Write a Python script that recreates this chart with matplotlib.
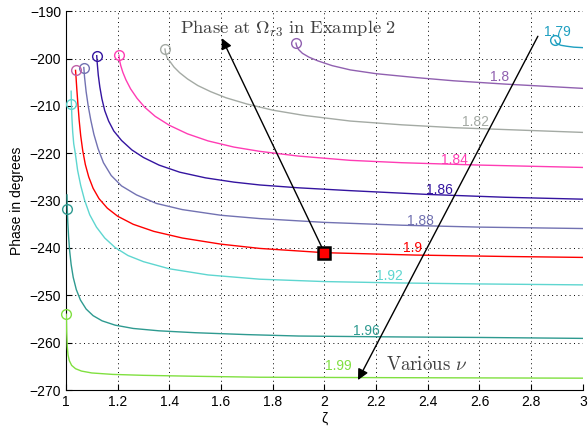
import matplotlib
matplotlib.use('Agg')
import matplotlib.pyplot as plt
import numpy as np

plt.rcParams['font.family'] = ['Liberation Sans', 'DejaVu Sans']
plt.rcParams['mathtext.fontset'] = 'cm'

# curve data (zeta, phase in degrees) for each nu
nu_labels = ['1.79', '1.8', '1.82', '1.84', '1.86', '1.88', '1.9', '1.92', '1.96', '1.99']
colors = ['#1e9fc0', '#9060b0', '#a4aaa4', '#ff3cb4', '#3414a0',
          '#7272b2', '#ff0000', '#5ed6d0', '#2e9a90', '#80e040']
circle_colors = ['#1e9fc0', '#9060b0', '#a4aaa4', '#ff3cb4', '#3414a0',
                 '#7272b2', '#c060a8', '#5ed6d0', '#2e9a90', '#80e040']

zeta_179 = [2.892, 2.898, 2.915, 2.937, 2.965, 3.0]
phase_179 = [-196.1, -196.8, -197.2, -197.4, -197.6, -197.7]

zeta_180 = [1.890, 1.893, 1.900, 1.915, 1.940, 1.975, 2.030, 2.100, 2.200, 2.350, 2.500, 2.700, 3.0]
phase_180 = [-196.75, -197.4, -198.1, -198.9, -199.7, -200.5, -201.5, -202.4, -203.2, -204.0, -204.7, -205.4, -206.3]

zeta_182 = [1.383, 1.386, 1.392, 1.402, 1.418, 1.440, 1.470, 1.510, 1.560, 1.620, 1.700, 1.800, 1.920, 2.100, 2.300, 2.500, 2.750, 3.0]
phase_182 = [-198.0, -199.0, -199.9, -200.6, -201.8, -203.0, -204.3, -205.7, -207.0, -208.3, -209.6, -210.9, -212.0, -213.2, -214.0, -214.6, -215.1, -215.6]

zeta_184 = [1.205, 1.207, 1.212, 1.220, 1.232, 1.250, 1.275, 1.305, 1.345, 1.400, 1.470, 1.550, 1.650, 1.750, 1.900, 2.100, 2.300, 2.600, 3.0]
phase_184 = [-199.3, -200.3, -201.5, -202.9, -204.5, -206.4, -208.4, -210.3, -212.2, -214.1, -215.9, -217.4, -218.7, -219.6, -220.6, -221.5, -222.0, -222.5, -223.0]

zeta_186 = [1.119, 1.121, 1.125, 1.131, 1.139, 1.150, 1.165, 1.185, 1.215, 1.255, 1.300, 1.360, 1.440, 1.540, 1.650, 1.750, 1.900, 2.100, 2.400, 2.700, 3.0]
phase_186 = [-199.4, -201.0, -203.5, -206.0, -208.5, -211.0, -213.2, -215.3, -217.3, -219.3, -220.9, -222.5, -224.0, -225.2, -226.1, -226.7, -227.3, -227.9, -228.7, -229.3, -229.7]

zeta_188 = [1.069, 1.072, 1.078, 1.086, 1.096, 1.108, 1.124, 1.145, 1.175, 1.215, 1.273, 1.350, 1.450, 1.600, 1.750, 2.000, 2.300, 2.600, 3.0]
phase_188 = [-201.9, -204.0, -207.0, -210.0, -213.0, -216.0, -219.0, -222.0, -224.7, -226.9, -228.8, -230.6, -231.9, -233.1, -233.8, -234.6, -235.2, -235.6, -235.9]

zeta_190 = [1.037, 1.039, 1.042, 1.046, 1.051, 1.057, 1.065, 1.075, 1.088, 1.105, 1.128, 1.160, 1.200, 1.260, 1.340, 1.450, 1.600, 1.750, 2.0, 2.350, 2.700, 3.0]
phase_190 = [-202.5, -204.0, -206.5, -209.5, -213.0, -216.3, -219.5, -222.4, -225.0, -227.4, -229.6, -231.6, -233.3, -235.0, -236.5, -237.9, -239.2, -240.1, -241.0, -241.5, -241.8, -242.0]

zeta_192 = [1.020, 1.021, 1.023, 1.026, 1.030, 1.036, 1.045, 1.057, 1.072, 1.092, 1.118, 1.150, 1.190, 1.240, 1.300, 1.400, 1.550, 1.750, 2.0, 2.300, 2.600, 3.0]
phase_192 = [-206.9, -209.6, -212.5, -215.5, -218.0, -220.0, -223.6, -226.8, -229.9, -233.0, -235.6, -237.9, -239.9, -241.6, -242.9, -244.4, -245.7, -246.6, -247.1, -247.4, -247.6, -247.8]

zeta_196 = [1.004, 1.005, 1.007, 1.010, 1.014, 1.020, 1.028, 1.040, 1.056, 1.078, 1.105, 1.140, 1.190, 1.260, 1.360, 1.500, 1.700, 1.900, 2.300, 2.600, 3.0]
phase_196 = [-228.8, -231.7, -234.5, -237.5, -240.5, -243.5, -246.2, -248.8, -251.0, -252.9, -254.3, -255.4, -256.3, -257.0, -257.5, -257.9, -258.3, -258.6, -258.8, -258.9, -259.1]

zeta_199 = [1.001, 1.002, 1.003, 1.005, 1.008, 1.013, 1.022, 1.037, 1.060, 1.100, 1.180, 1.300, 1.500, 1.750, 2.300, 3.0]
phase_199 = [-254.0, -255.5, -258.0, -260.8, -262.6, -263.8, -264.8, -265.5, -266.0, -266.4, -266.7, -266.9, -267.1, -267.3, -267.4, -267.5]

curves_zeta = [zeta_179, zeta_180, zeta_182, zeta_184, zeta_186, zeta_188, zeta_190, zeta_192, zeta_196, zeta_199]
curves_phase = [phase_179, phase_180, phase_182, phase_184, phase_186, phase_188, phase_190, phase_192, phase_196, phase_199]

# circles: start points marked on each curve
circle_zeta = [2.892, 1.890, 1.383, 1.205, 1.119, 1.069, 1.037, 1.019, 1.004, 1.001]
circle_phase = [-196.1, -196.75, -198.0, -199.3, -199.4, -201.9, -202.5, -209.6, -231.7, -254.0]

# label positions for each nu
label_zeta = [2.900, 2.679, 2.586, 2.505, 2.447, 2.373, 2.339, 2.250, 2.164, 2.052]
label_phase = [-194.5, -203.9, -213.4, -221.5, -227.8, -234.3, -240.0, -245.9, -257.5, -264.9]

# Example 2 point
ex2_zeta = [2.0]
ex2_phase = [-241.0]

fig = plt.figure(figsize=(5.88, 4.30), dpi=100)
ax = fig.add_axes([0.1122, 0.093, 0.879, 0.881])

for zs, ps, col in zip(curves_zeta, curves_phase, colors):
    ax.plot(zs, ps, color=col, lw=1.0, zorder=3)

for zc, pc, col in zip(circle_zeta, circle_phase, circle_colors):
    ax.plot(zc, pc, 'o', mfc='none', mec=col, ms=7, mew=1.0, zorder=4, clip_on=False)

for lbl, zl, pl, col in zip(nu_labels, label_zeta, label_phase, colors):
    ax.text(zl, pl, lbl, color=col, fontsize=10, ha='center', va='center', zorder=5)

ax.plot(ex2_zeta, ex2_phase, 's', mfc='red', mec='black', ms=9, mew=1.8, zorder=6)

# arrows
ax.annotate('', xy=(1.603, -195.7), xytext=(ex2_zeta[0], ex2_phase[0]),
            arrowprops=dict(arrowstyle='-|>', color='black', lw=1.0, mutation_scale=16,
                            shrinkA=0, shrinkB=0), zorder=5)
ax.annotate('', xy=(2.130, -267.9), xytext=(2.826, -195.3),
            arrowprops=dict(arrowstyle='-|>', color='black', lw=1.0, mutation_scale=16,
                            shrinkA=0, shrinkB=0), zorder=5)

ax.text(1.859, -193.8, r'$\mathrm{Phase\ at\ }\Omega_{r3}\mathrm{\ in\ Example\ 2}$',
        fontsize=13.4, color='#404040', ha='center', va='center', zorder=5)
ax.text(2.397, -264.7, r'$\mathrm{Various\ }\nu$',
        fontsize=13.6, color='#404040', ha='center', va='center', zorder=5)

ax.set_xlim(1, 3)
ax.set_ylim(-270, -190)
ax.set_xticks(np.arange(1, 3.01, 0.2))
ax.set_xticklabels(['1', '1.2', '1.4', '1.6', '1.8', '2', '2.2', '2.4', '2.6', '2.8', '3'])
ax.set_yticks(np.arange(-270, -189, 10))
ax.tick_params(direction='in', length=4, labelsize=10, top=False, right=False)
ax.grid(True, color='black', linestyle=(0, (1, 3.5)), lw=0.7)
ax.spines['top'].set_visible(False)
ax.spines['right'].set_visible(False)

ax.set_xlabel('ζ', fontsize=10, labelpad=2)
ax.set_ylabel('Phase in degrees', fontsize=10, labelpad=4)

fig.savefig('out.png', dpi=100)
